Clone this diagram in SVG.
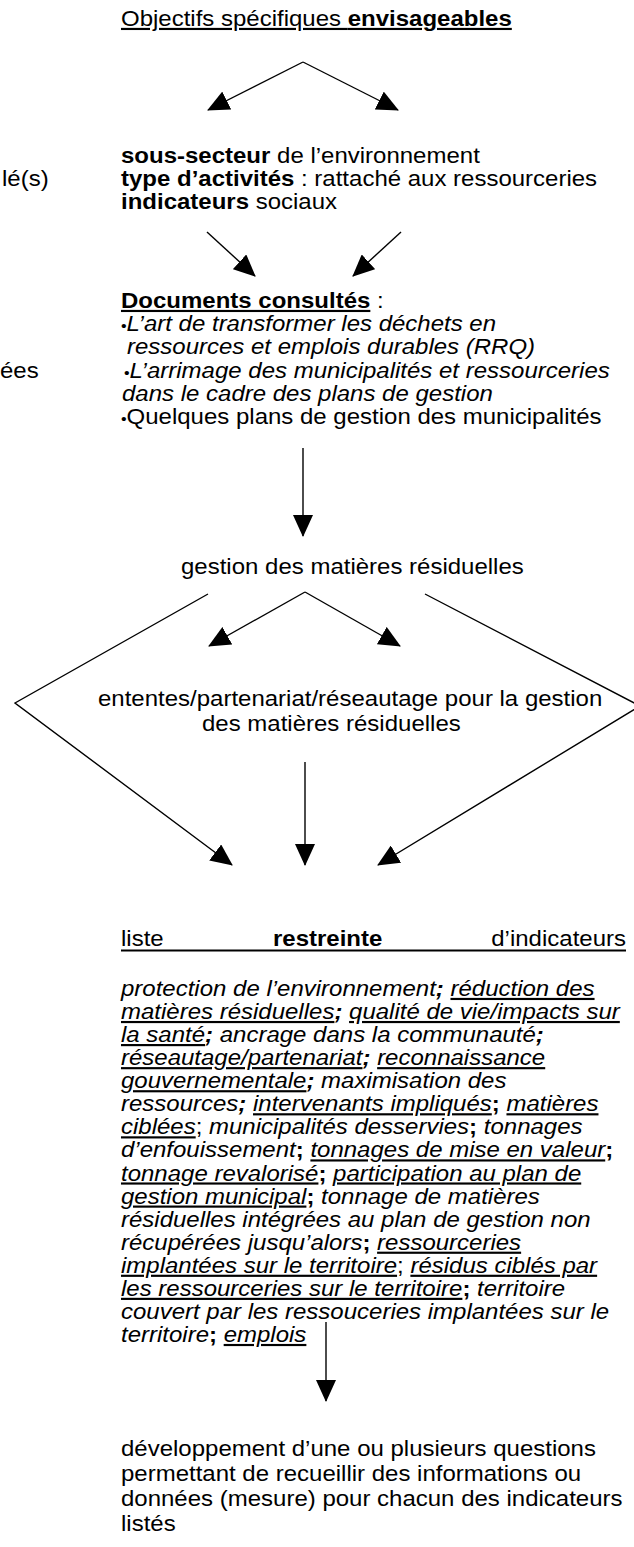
<svg xmlns="http://www.w3.org/2000/svg" width="634" height="1547" viewBox="0 0 634 1547">
<style>
.t{font-family:"Liberation Sans",Arial,Helvetica,sans-serif;font-size:24px;fill:#000}
.b{font-weight:bold}
.i{font-style:italic}
.n{font-style:normal}
.u{text-decoration:underline}
.bu{font-size:16px}
.ln{stroke:#000;stroke-width:1.4;fill:none}
.ar{marker-end:url(#ah)}
</style>
<defs>
<marker id="ah" markerUnits="userSpaceOnUse" markerWidth="22" markerHeight="20" viewBox="0 0 22 20" refX="21" refY="10" orient="auto">
<path d="M0,0 L22,10 L0,20 z" fill="#000"/>
</marker>
</defs>
<rect width="634" height="1547" fill="#fff"/>

<g id="connectors">
<line class="ln ar" x1="303" y1="62" x2="208" y2="110"/>
<line class="ln ar" x1="303" y1="62" x2="398" y2="110"/>
<line class="ln ar" x1="207" y1="232" x2="255" y2="276"/>
<line class="ln ar" x1="401" y1="232" x2="353" y2="276"/>
<line class="ln ar" x1="303" y1="448" x2="303" y2="536"/>
<line class="ln ar" x1="305" y1="592" x2="209" y2="646"/>
<line class="ln ar" x1="305" y1="592" x2="400" y2="646"/>
<polyline class="ln ar" points="208,594 15,703 232,865"/>
<polyline class="ln ar" points="425,594 640,706 378,865"/>
<line class="ln ar" x1="305" y1="762" x2="305" y2="865"/>
<line class="ln ar" x1="326" y1="1322" x2="326" y2="1401"/>
</g>

<g id="title">
<text class="t" transform="matrix(1 0 0 .9 0 2.6)" x="121" y="26"><tspan class="u">Objectifs spécifiques </tspan><tspan class="u b">envisageables</tspan></text>
</g>

<g id="left-fragment-1">
<text class="t" transform="matrix(1 0 0 .9 0 18.6)" x="2" y="186">lé(s)</text>
</g>

<g id="secteur">
<text class="t" transform="matrix(1 0 0 .9 0 16.3)" x="121" y="163"><tspan class="b">sous-secteur</tspan> de l’environnement</text>
<text class="t" transform="matrix(1 0 0 .9 0 18.6)" x="121" y="186"><tspan class="b">type d’activités</tspan> : rattaché aux ressourceries</text>
<text class="t" transform="matrix(1 0 0 .9 0 20.9)" x="121" y="209"><tspan class="b">indicateurs</tspan> sociaux</text>
</g>

<g id="left-fragment-2">
<text class="t" transform="matrix(1 0 0 .9 0 37.8)" x="0" y="378">ées</text>
</g>

<g id="documents">
<text class="t" transform="matrix(1 0 0 .9 0 30.8)" x="121" y="308"><tspan class="b u">Documents consultés</tspan> :</text>
<text class="t" transform="matrix(1 0 0 .9 0 33.1)" x="121" y="331"><tspan class="bu">•</tspan><tspan class="i">L’art de transformer les déchets en</tspan></text>
<text class="t i" transform="matrix(1 0 0 .9 0 35.4)" x="127" y="354"> ressources et emplois durables (RRQ)</text>
<text class="t" transform="matrix(1 0 0 .9 0 37.8)" x="124" y="378"><tspan class="bu">•</tspan><tspan class="i">L’arrimage des municipalités et ressourceries</tspan></text>
<text class="t i" transform="matrix(1 0 0 .9 0 40.1)" x="122" y="401">dans le cadre des plans de gestion</text>
<text class="t" transform="matrix(1 0 0 .9 0 42.4)" x="121" y="424"><tspan class="bu">•</tspan>Quelques plans de gestion des municipalités</text>
</g>

<g id="gestion">
<text class="t" transform="matrix(1 0 0 .9 0 57.4)" x="181" y="574">gestion des matières résiduelles</text>
</g>

<g id="ententes">
<text class="t" transform="matrix(1 0 0 .9 0 70.6)" x="98" y="706">ententes/partenariat/réseautage pour la gestion</text>
<text class="t" transform="matrix(1 0 0 .9 0 73.1)" x="202" y="731">des matières résiduelles</text>
</g>

<g id="liste" transform="matrix(1 0 0 .9 0 94.6)">
<text class="t" x="121" y="946">liste</text>
<text class="t b" x="273" y="946">restreinte</text>
<text class="t" x="626" y="946" text-anchor="end">d’indicateurs</text>
<line x1="121" y1="951" x2="626" y2="951" stroke="#000" stroke-width="2.2"/>
</g>

<g id="indicateurs">
<text class="t i" transform="matrix(1 0 0 .9 0 99.6)" x="121" y="996">protection de l’environnement<tspan class="b">;</tspan> <tspan class="u">réduction des</tspan></text>
<text class="t i" transform="matrix(1 0 0 .9 0 101.907)" x="121" y="1019.07"><tspan class="u">matières résiduelles</tspan><tspan class="b">;</tspan> <tspan class="u">qualité de vie/impacts sur</tspan></text>
<text class="t i" transform="matrix(1 0 0 .9 0 104.214)" x="121" y="1042.14"><tspan class="u">la santé</tspan><tspan class="b">;</tspan> ancrage dans la communauté<tspan class="b">;</tspan></text>
<text class="t i" transform="matrix(1 0 0 .9 0 106.521)" x="121" y="1065.21"><tspan class="u">réseautage/partenariat</tspan><tspan class="b">;</tspan> <tspan class="u">reconnaissance</tspan></text>
<text class="t i" transform="matrix(1 0 0 .9 0 108.828)" x="121" y="1088.28"><tspan class="u">gouvernementale</tspan><tspan class="b">;</tspan> maximisation des</text>
<text class="t i" transform="matrix(1 0 0 .9 0 111.135)" x="121" y="1111.35">ressources<tspan class="b">;</tspan> <tspan class="u">intervenants impliqués</tspan><tspan class="b n">;</tspan> <tspan class="u">matières</tspan></text>
<text class="t i" transform="matrix(1 0 0 .9 0 113.442)" x="121" y="1134.42"><tspan class="u">ciblées</tspan><tspan class="n">;</tspan> municipalités desservies<tspan class="b n">;</tspan> tonnages</text>
<text class="t i" transform="matrix(1 0 0 .9 0 115.749)" x="121" y="1157.49">d’enfouissement<tspan class="b n">;</tspan> <tspan class="u">tonnages de mise en valeur</tspan><tspan class="b n">;</tspan></text>
<text class="t i" transform="matrix(1 0 0 .9 0 118.056)" x="121" y="1180.56"><tspan class="u">tonnage revalorisé</tspan><tspan class="b n">;</tspan> <tspan class="u">participation au plan de</tspan></text>
<text class="t i" transform="matrix(1 0 0 .9 0 120.363)" x="121" y="1203.63"><tspan class="u">gestion municipal</tspan><tspan class="b n">;</tspan> tonnage de matières</text>
<text class="t i" transform="matrix(1 0 0 .9 0 122.67)" x="121" y="1226.7">résiduelles intégrées au plan de gestion non</text>
<text class="t i" transform="matrix(1 0 0 .9 0 124.977)" x="121" y="1249.77">récupérées jusqu’alors<tspan class="b n">;</tspan> <tspan class="u">ressourceries</tspan></text>
<text class="t i" transform="matrix(1 0 0 .9 0 127.284)" x="121" y="1272.84"><tspan class="u">implantées sur le territoire</tspan><tspan class="n">;</tspan> <tspan class="u">résidus ciblés par</tspan></text>
<text class="t i" transform="matrix(1 0 0 .9 0 129.591)" x="121" y="1295.91"><tspan class="u">les ressourceries sur le territoire</tspan><tspan class="b n">;</tspan> territoire</text>
<text class="t i" transform="matrix(1 0 0 .9 0 131.898)" x="121" y="1318.98">couvert par les ressouceries implantées sur le</text>
<text class="t i" transform="matrix(1 0 0 .9 0 134.205)" x="121" y="1342.05">territoire<tspan class="b n">;</tspan> <tspan class="u">emplois</tspan></text>
</g>

<g id="developpement">
<text class="t" transform="matrix(1 0 0 .9 0 145.6)" x="121" y="1456">développement d’une ou plusieurs questions</text>
<text class="t" transform="matrix(1 0 0 .9 0 148.1)" x="121" y="1481">permettant de recueillir des informations ou</text>
<text class="t" transform="matrix(1 0 0 .9 0 150.6)" x="121" y="1506">données (mesure) pour chacun des indicateurs</text>
<text class="t" transform="matrix(1 0 0 .9 0 153.1)" x="121" y="1531">listés</text>
</g>
</svg>
